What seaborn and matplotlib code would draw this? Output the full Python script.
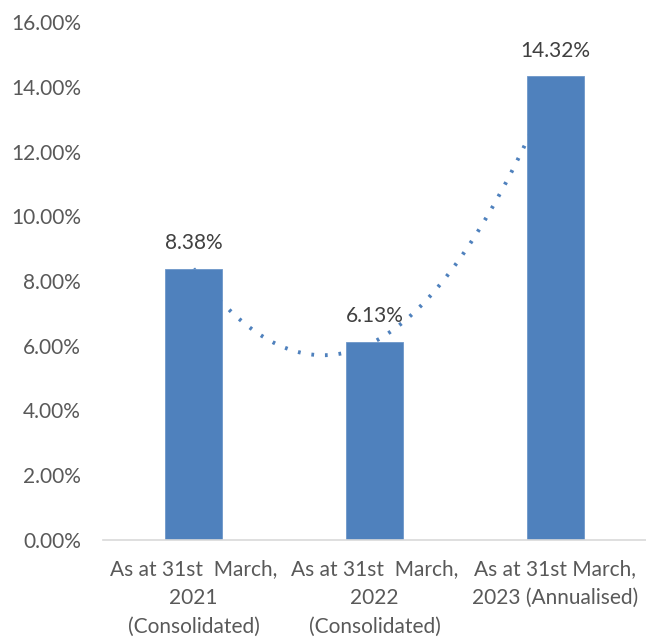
import matplotlib
matplotlib.use("Agg")
import matplotlib.pyplot as plt
from matplotlib.ticker import FuncFormatter, MultipleLocator
import seaborn as sns
import pandas as pd
import numpy as np

categories = [
    "As at 31st  March,\n2021\n(Consolidated)",
    "As at 31st  March,\n2022\n(Consolidated)",
    "As at 31st March,\n2023 (Annualised)",
]
values = [8.38, 6.13, 14.32]
value_labels = ["8.38%", "6.13%", "14.32%"]

BAR = "#4F81BD"
TXT = "#595959"

sns.set_theme(style="white")
plt.rcParams["font.family"] = ["Lato", "DejaVu Sans"]

df = pd.DataFrame({"category": categories, "value": values,
                   "pos": np.arange(len(categories))})

fig = plt.figure(figsize=(6.46, 6.40), dpi=100)
ax = fig.add_axes([103 / 646, 1 - 540 / 640, 1 - 103 / 646, (540 - 22) / 640])

sns.regplot(data=df, x="pos", y="value", order=2, ci=None, scatter=False,
            truncate=True, ax=ax,
            line_kws=dict(color=BAR, linewidth=2.8, linestyle=(0, (0.7, 2.8)),
                          dash_capstyle="butt", zorder=1))
sns.barplot(data=df, x="category", y="value", color=BAR, saturation=1,
            width=0.32, ax=ax, zorder=2, edgecolor="#6D97C9", linewidth=0.6)

ax.bar_label(ax.containers[0], labels=value_labels, padding=11,
             fontsize=15, color="#404040", zorder=3)

ax.set_xlim(-0.5, 2.5)
ax.set_ylim(0, 16)
ax.yaxis.set_major_locator(MultipleLocator(2))
ax.yaxis.set_major_formatter(FuncFormatter(lambda v, p: f"{v:.2f}%"))
ax.set_xlabel("")
ax.set_ylabel("")
for s in ["top", "right", "left"]:
    ax.spines[s].set_visible(False)
ax.spines["bottom"].set_color("#D9D9D9")
ax.spines["bottom"].set_linewidth(1.2)
ax.tick_params(axis="y", length=0, pad=16, labelsize=15, labelcolor=TXT)
ax.tick_params(axis="x", length=0, pad=14, labelsize=15, labelcolor=TXT)
for t in ax.get_xticklabels():
    t.set_linespacing(1.55)
    t.set_horizontalalignment("center")

fig.savefig("out.png", dpi=100)
